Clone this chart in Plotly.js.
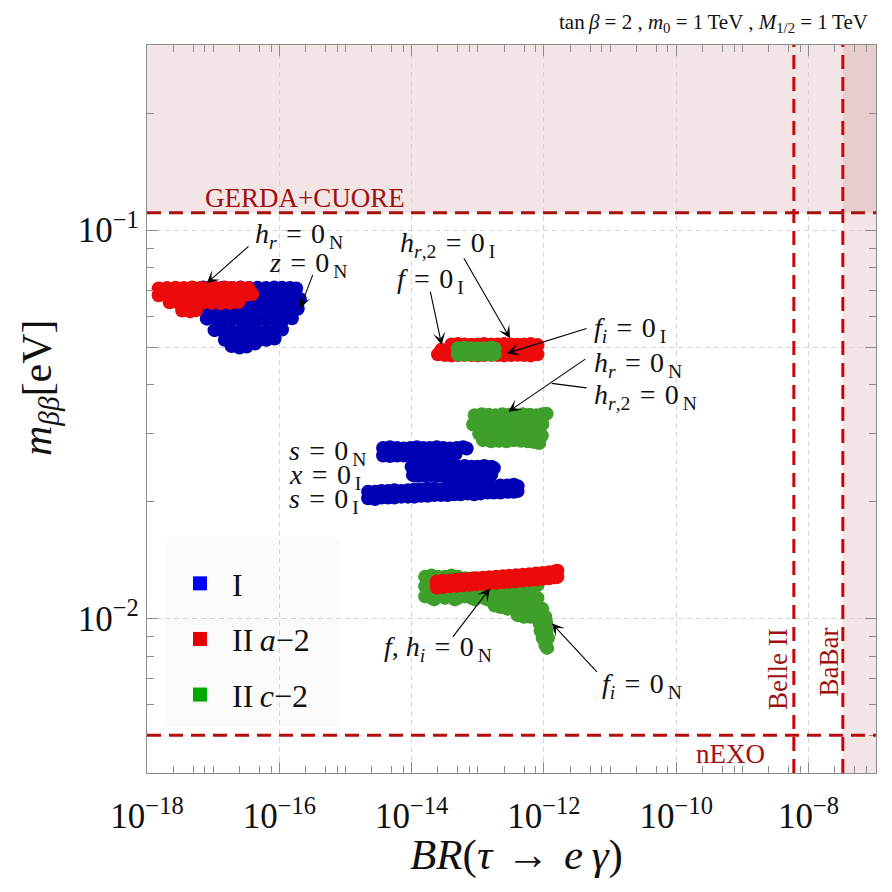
<!DOCTYPE html>
<html>
<head>
<meta charset="utf-8">
<script src="https://cdn.plot.ly/plotly-3.0.1.min.js"></script>
<style>
  html, body { margin: 0; padding: 0; background: #fff; }
  #chart { width: 892px; height: 892px; }
</style>
</head>
<body>
<div id="chart"></div>
<script>
// m_bb versus BR(tau -> e gamma) for the texture-zero scans (tan beta = 2, m0 = M1/2 = 1 TeV)

// ---------- experimental bounds ----------
const gerdaCuore = 0.111;   // eV, m_bb upper bound
const nexo = 0.005;         // eV, future sensitivity
const belle2 = 6e-9;        // BR reach
const babar = 3.3e-8;       // BR upper bound

// ---------- scan points: [BR(tau -> e gamma), m_bb (eV)] ----------
// Model I : h_r = 0_N, z = 0_N cluster
const typeI_hz = [
  [5e-18,.071],[7e-18,.0712],[1e-17,.071],[1.4e-17,.0711],[1.9e-17,.071],[2.6e-17,.0712],[3.5e-17,.071],[4.7e-17,.0711],[6.3e-17,.071],[8.4e-17,.0712],[1.1e-16,.0711],[1.45e-16,.071],[1.8e-16,.0708],
  [4e-18,.067],[6e-18,.067],[9e-18,.0672],[1.3e-17,.067],[1.8e-17,.0671],[2.4e-17,.067],[3.2e-17,.0669],[4.3e-17,.0671],[5.7e-17,.067],[7.6e-17,.0672],[1e-16,.067],[1.35e-16,.0669],[1.75e-16,.067],[2.05e-16,.0665],
  [5e-18,.063],[7e-18,.0632],[1e-17,.063],[1.4e-17,.0631],[1.9e-17,.063],[2.6e-17,.0629],[3.5e-17,.063],[4.7e-17,.0631],[6.3e-17,.063],[8.4e-17,.0629],[1.1e-16,.063],[1.45e-16,.0632],[1.9e-16,.0628],
  [8e-18,.0592],[1.1e-17,.059],[1.5e-17,.0589],[2e-17,.059],[2.7e-17,.0591],[3.6e-17,.059],[4.8e-17,.0589],[6.4e-17,.059],[8.5e-17,.0591],[1.15e-16,.059],[1.55e-16,.0593],
  [1.05e-17,.0553],[1.4e-17,.055],[1.9e-17,.0549],[2.6e-17,.055],[3.5e-17,.0551],[4.7e-17,.055],[6.3e-17,.0549],[8.4e-17,.0551],[1.1e-16,.0555],
  [1.5e-17,.0522],[2e-17,.052],[2.7e-17,.0519],[3.6e-17,.052],[4.8e-17,.0521],[6.4e-17,.0522],[8.5e-17,.0526],
  [1.9e-17,.0503],[2.5e-17,.0499],[3.2e-17,.0502],[4.3e-17,.0511]
];
// Model I : s = 0_N band
const typeI_sN = [
  [3.7e-15,.0275],[4.7e-15,.0276],[6e-15,.0275],[7.6e-15,.0274],[9.6e-15,.0275],[1.2e-14,.0276],[1.5e-14,.0275],[1.9e-14,.0275],[2.4e-14,.0276],[3e-14,.0275],[3.8e-14,.0274],[4.8e-14,.0275],[6e-14,.0276],[6.8e-14,.0274],
  [3.7e-15,.0263],[4.7e-15,.0262],[6e-15,.0263],[7.6e-15,.0263],[9.6e-15,.0262],[1.2e-14,.0263],[1.5e-14,.0264],[1.9e-14,.0263],[2.4e-14,.0262],[3e-14,.0263],[3.8e-14,.0264],[4.6e-14,.0265]
];
// Model I : x = 0_I band
const typeI_xI = [
  [1e-14,.0246],[1.25e-14,.0247],[1.6e-14,.0246],[2e-14,.0246],[2.5e-14,.0247],[3.2e-14,.0246],[4e-14,.0245],[5e-14,.0246],[6.3e-14,.0247],[8e-14,.0246],[1e-13,.0246],[1.25e-13,.0247],[1.6e-13,.0246],[1.75e-13,.0244],
  [1.05e-14,.0234],[1.25e-14,.0233],[1.6e-14,.0233],[2e-14,.0234],[2.5e-14,.0233],[3.2e-14,.0232],[4e-14,.0233],[5e-14,.0234],[6.3e-14,.0233],[8e-14,.0233],[1e-13,.0234],[1.25e-13,.0233],[1.6e-13,.0235]
];
// Model I : s = 0_I band
const typeI_sI = [
  [2.2e-15,.0212],[2.8e-15,.0212],[3.5e-15,.0213],[4.4e-15,.0213],[5.5e-15,.0214],[7e-15,.0213],[8.8e-15,.0214],[1.1e-14,.0215],[1.4e-14,.0215],[1.75e-14,.0216],[2.2e-14,.0216],[2.8e-14,.0215],[3.5e-14,.0217],[4.4e-14,.0217],[5.5e-14,.0218],[7e-14,.0217],[8.8e-14,.0218],[1.1e-13,.0219],[1.4e-13,.0219],[1.75e-13,.0218],[2.2e-13,.022],[2.8e-13,.022],[3.5e-13,.0221],[4e-13,.0219],
  [2.2e-15,.0204],[2.8e-15,.0203],[3.5e-15,.0205],[4.4e-15,.0205],[5.5e-15,.0205],[7e-15,.0206],[8.8e-15,.0206],[1.1e-14,.0206],[1.4e-14,.0207],[1.75e-14,.0207],[2.2e-14,.0208],[2.8e-14,.0208],[3.5e-14,.0208],[4.4e-14,.0209],[5.5e-14,.0209],[7e-14,.021],[8.8e-14,.0209],[1.1e-13,.021],[1.4e-13,.0211],[1.75e-13,.0211],[2.2e-13,.0211],[2.8e-13,.0212],[3.5e-13,.0212],[4e-13,.0213]
];

// Model II a-2 : h_r = 0_N cluster
const IIa_top = [
  [1.5e-18,.0708],[2e-18,.071],[2.7e-18,.0711],[3.6e-18,.071],[4.8e-18,.0712],[6.4e-18,.071],[8.5e-18,.0711],[1.1e-17,.071],[1.5e-17,.0712],[2e-17,.071],[2.6e-17,.0711],[3.4e-17,.071],
  [1.5e-18,.068],[2e-18,.0678],[2.7e-18,.068],[3.6e-18,.0681],[4.8e-18,.068],[6.4e-18,.0679],[8.5e-18,.068],[1.1e-17,.0681],[1.5e-17,.068],[2e-17,.0679],[2.6e-17,.068],[3.3e-17,.0682],[3.9e-17,.0685],
  [2.2e-18,.0652],[3e-18,.065],[4e-18,.0648],[5.3e-18,.065],[7e-18,.0651],[9.5e-18,.065],[1.3e-17,.0649],[1.8e-17,.065],[2.4e-17,.0653],
  [3.4e-18,.0621],[4.5e-18,.0618],[5.5e-18,.0622]
];
// Model II a-2 : h_{r,2} = 0_I, f = 0_I band
const IIa_mid = [
  [4e-14,.0508],[5e-14,.0509],[6.3e-14,.0508],[8e-14,.0507],[1e-13,.0508],[1.25e-13,.0509],[1.6e-13,.0508],[2e-13,.0508],[2.5e-13,.0509],[3.2e-13,.0508],[4e-13,.0507],[5e-13,.0508],[6.3e-13,.0509],[8e-13,.0506],
  [2.8e-14,.0492],
  [2.5e-14,.0479],[3.2e-14,.0477],[4e-14,.0476],[5e-14,.0477],[6.3e-14,.0478],[8e-14,.0477],[1e-13,.0476],[1.25e-13,.0477],[1.6e-13,.0478],[2e-13,.0477],[2.5e-13,.0476],[3.2e-13,.0477],[4e-13,.0478],[5e-13,.0477],[6.3e-13,.0476],[8e-13,.0479]
];
// Model II a-2 : f, h_i = 0_N band
const IIa_low = [
  [2.4e-14,.01246],[3e-14,.0125],[3.8e-14,.01253],[4.8e-14,.01258],[6e-14,.01262],[7.6e-14,.01265],[9.6e-14,.0127],[1.2e-13,.01273],[1.5e-13,.01277],[1.9e-13,.0128],[2.4e-13,.01284],[3e-13,.01289],[3.8e-13,.01292],[4.8e-13,.01296],[6e-13,.013],[7.6e-13,.01306],[9.6e-13,.0131],[1.2e-12,.01316],[1.5e-12,.01323],[1.6e-12,.01327],
  [2.4e-14,.01202],[3e-14,.01205],[3.8e-14,.0121],[4.8e-14,.01214],[6e-14,.01217],[7.6e-14,.01222],[9.6e-14,.01226],[1.2e-13,.01229],[1.5e-13,.01233],[1.9e-13,.01236],[2.4e-13,.0124],[3e-13,.01244],[3.8e-13,.01247],[4.8e-13,.01252],[6e-13,.01256],[7.6e-13,.0126],[9.6e-13,.01265],[1.2e-12,.0127],[1.5e-12,.01277],[1.6e-12,.0128]
];

// Model II c-2 : f_i = 0_I band
const IIc_mid = [
  [5e-14,.0497],[6.3e-14,.0498],[8e-14,.0497],[1e-13,.0496],[1.25e-13,.0497],[1.6e-13,.0498],[1.8e-13,.0496],
  [5e-14,.0479],[6.3e-14,.0478],[8e-14,.0479],[1e-13,.0478],[1.25e-13,.0479],[1.6e-13,.0478],[1.8e-13,.048]
];
// Model II c-2 : h_r = 0_N, h_{r,2} = 0_N cluster
const IIc_up = [
  [9e-14,.0334],[1.15e-13,.0336],[1.45e-13,.0335],[1.85e-13,.0334],[2.35e-13,.0336],[3e-13,.0335],[3.8e-13,.0334],[4.8e-13,.0336],[6.1e-13,.0335],[7.7e-13,.0334],[9.5e-13,.0336],[1.1e-12,.0337],
  [8.5e-14,.0316],[1.1e-13,.0315],[1.4e-13,.0314],[1.8e-13,.0315],[2.3e-13,.0316],[2.9e-13,.0315],[3.7e-13,.0314],[4.7e-13,.0315],[6e-13,.0316],[7.6e-13,.0315],[9.5e-13,.0317],
  [1.05e-13,.0299],[1.35e-13,.0298],[1.7e-13,.0297],[2.2e-13,.0298],[2.8e-13,.0299],[3.6e-13,.0298],[4.6e-13,.0297],[5.8e-13,.0298],[7.4e-13,.0299],[9.3e-13,.0296],
  [1.2e-13,.0288],[1.6e-13,.0286],[2.1e-13,.0287],[2.7e-13,.0286],[3.5e-13,.0288],[4.5e-13,.0287],[5.7e-13,.0286],[7e-13,.0285],[8.5e-13,.0283]
];
// Model II c-2 : f, h_i = 0_N band and f_i = 0_N tail
const IIc_low = [
  [1.6e-14,.0128],[2e-14,.0129],[2.5e-14,.0128],[3.2e-14,.0128],[4e-14,.0129],[5e-14,.0128],[6.5e-14,.0127],[8.5e-14,.0127],
  [1.6e-14,.0121],[2e-14,.0121],[2.5e-14,.0122],[3.2e-14,.0121],[4e-14,.0121],[5e-14,.0122],[6.3e-14,.0121],[8e-14,.0121],[1e-13,.0122],[1.25e-13,.0121],[1.6e-13,.0121],[2e-13,.0122],[2.5e-13,.0121],[3.2e-13,.0121],[4e-13,.0122],[5e-13,.0121],[6.3e-13,.0121],[8e-13,.0122],
  [1.6e-14,.0114],[2e-14,.0113],[2.5e-14,.0114],[3.2e-14,.0113],[4e-14,.0114],[5e-14,.0113],[6.3e-14,.0114],[8e-14,.0113],[1e-13,.0114],[1.25e-13,.0113],[1.6e-13,.0114],[2e-13,.0113],[2.5e-13,.0114],[3.2e-13,.0113],[4e-13,.0114],[5e-13,.0113],[6.3e-13,.0114],[8e-13,.0113],
  [2.2e-14,.0112],[4.5e-14,.0112],[9e-14,.0112],[1.4e-13,.0112],
  [1.8e-13,.0108],[2.2e-13,.0107],[2.8e-13,.0106],[3.5e-13,.0107],[4.4e-13,.0106],[5.5e-13,.0107],[6.8e-13,.0106],[8.2e-13,.0107],[9.4e-13,.0106],
  [4e-13,.0102],[5e-13,.0101],[6.3e-13,.0101],[7.8e-13,.0102],[9.3e-13,.0101],[1.05e-12,.0101],
  [8.6e-13,.0097],[1.08e-12,.0098],[8.9e-13,.0093],[1.1e-12,.0093],[9.6e-13,.0089],[1.15e-12,.0089],[1.05e-12,.00855],[1.12e-12,.0084]
];

// ---------- legend / tick text ----------
const seriesNames = ['I', 'II\u2009<i>a</i>\u22122', 'II\u2009<i>c</i>\u22122'];
const legendColors = ['#0000ff', '#e60000', '#00a800'];
const markColors = ['#0000b4', '#ec0a0a', '#3ea02a'];
const xTickVals = [1e-18, 1e-16, 1e-14, 1e-12, 1e-10, 1e-8];
const xTickText = ['10<sup>\u221218</sup>', '10<sup>\u221216</sup>', '10<sup>\u221214</sup>', '10<sup>\u221212</sup>', '10<sup>\u221210</sup>', '10<sup>\u22128</sup>'];
const yTickVals = [0.1, 0.05, 0.01];
const yTickText = ['10<sup>\u22121</sup>', '', '10<sup>\u22122</sup>'];

const SERIF = '"Liberation Serif", "DejaVu Serif", serif';
const xRange = [-18, -6.98];
const yRange = [Math.log10(0.004), Math.log10(0.3)];

// minor ticks: 2.5, 5, 7.5 per decade plus the unlabelled decades
const xMinor = [];
for (let e = -18; e <= -8; e++) {
  [2.5, 5, 7.5].forEach(m => xMinor.push(m * Math.pow(10, e)));
  if (e % 2 !== 0) xMinor.push(Math.pow(10, e));
}
const yMinor = [0.005, 0.006, 0.007, 0.008, 0.009, 0.02, 0.03, 0.04, 0.06, 0.07, 0.08, 0.09, 0.2, 0.3];

const cols = arr => ({ x: arr.map(p => p[0]), y: arr.map(p => p[1]) });
const scatter = (arr, color) => Object.assign(cols(arr), {
  type: 'scatter', mode: 'markers', showlegend: false, hoverinfo: 'skip',
  marker: { color: color, size: 14, line: { width: 0 } }
});

const traces = [
  scatter([].concat(typeI_hz, typeI_sN, typeI_xI, typeI_sI), markColors[0]),
  scatter([].concat(IIc_up, IIc_low), markColors[2]),
  scatter([].concat(IIa_top, IIa_mid, IIa_low), markColors[1]),
  scatter(IIc_mid, markColors[2])
];
// legend swatches
seriesNames.forEach((name, i) => traces.push({
  type: 'scatter', mode: 'markers', x: [null], y: [null], name: name,
  legendgroup: 'g' + i, showlegend: true,
  marker: { symbol: 'square', size: 14, color: legendColors[i] }
}));

// ---------- annotations ----------
const SP = '\u2004';  // spacing around relation signs
const eq = SP + '=' + SP;
const labelFont = { family: SERIF, size: 28, color: '#111' };
const label = (text, x, y) => ({ text, x, y, xref: 'x', yref: 'y', showarrow: false,
  xanchor: 'left', yanchor: 'middle', font: labelFont });
const arrow = (tx, ty, hx, hy, head) => ({ text: '', x: hx, y: hy, ax: tx, ay: ty,
  xref: 'x', yref: 'y', axref: 'x', ayref: 'y', showarrow: true,
  arrowhead: head === undefined ? 3 : head, arrowsize: 1.9, arrowwidth: 1.1, arrowcolor: '#000',
  standoff: 0, startstandoff: 0 });
const limFont = { family: SERIF, size: 27, color: '#9e1010' };
const limLabel = (text, x, y, angle) => ({ text, x, y, xref: 'x', yref: 'y', showarrow: false,
  xanchor: 'center', yanchor: 'middle', textangle: angle || 0, font: limFont });
const axisTitleFont = { family: SERIF, size: 43, color: '#111' };

const annotations = [
  label('<i>h</i><sub><i>r</i></sub>' + eq + '0<sub>\u2009N</sub>', -16.398, -1.0124),
  label('<i>z</i>' + eq + '0<sub>\u2009N</sub>', -16.186, -1.0871),
  arrow(-16.443, -1.0381, -17.0975, -1.1368),
  arrow(-15.486, -1.111, -15.687, -1.2012),

  label('<i>h</i><sub><i>r</i>,2</sub>' + eq + '0<sub>\u2009I</sub>', -14.206, -1.0355),
  label('<i>f</i>' + eq + '0<sub>\u2009I</sub>', -14.251, -1.1283),
  arrow(-13.223, -1.0683, -12.512, -1.2784),
  arrow(-13.722, -1.154, -13.545, -1.2957),

  label('<i>f</i><sub><i>i</i></sub>' + eq + '0<sub>\u2009I</sub>', -11.277, -1.2545),
  arrow(-11.333, -1.2519, -12.562, -1.3171),
  label('<i>h</i><sub><i>r</i></sub>' + eq + '0<sub>\u2009N</sub>', -11.277, -1.3446),
  arrow(-11.353, -1.3292, -12.538, -1.4675),
  label('<i>h</i><sub><i>r</i>,2</sub>' + eq + '0<sub>\u2009N</sub>', -11.277, -1.427),
  arrow(-11.333, -1.4064, -11.882, -1.3943, 0),

  label('<i>s</i>' + eq + '0<sub>\u2009N</sub>', -15.884, -1.5713),
  label('<i>x</i>' + eq + '0<sub>\u2009I</sub>', -15.884, -1.6331),
  label('<i>s</i>' + eq + '0<sub>\u2009I</sub>', -15.884, -1.6949),

  label('<i>f</i>, <i>h</i><sub><i>i</i></sub>' + eq + '0<sub>\u2009N</sub>', -14.452, -2.0761),
  arrow(-13.394, -2.0511, -12.815, -1.9223),
  label('<i>f</i><sub><i>i</i></sub>' + eq + '0<sub>\u2009N</sub>', -11.152, -2.1714),
  arrow(-11.178, -2.1413, -11.882, -2.0125),

  limLabel('GERDA+CUORE', -15.611, -0.9171),
  limLabel('nEXO', -9.187, -2.3491),
  limLabel('Belle II', -8.461, -2.130, -90),
  limLabel('BaBar', -7.697, -2.112, -90),

  // axis titles
  { text: '<i>BR</i>(<i>\u03c4</i>\u2004\u2192\u2004<i>e</i>\u2009<i>\u03b3</i>)', xref: 'paper', yref: 'paper',
    x: 0.5075, y: -0.113, xanchor: 'center', yanchor: 'middle', showarrow: false, font: axisTitleFont },
  { text: '<i>m</i><sub><i>\u03b2\u03b2</i></sub>[eV]', xref: 'paper', yref: 'paper',
    x: -0.147, y: 0.53, xanchor: 'center', yanchor: 'middle', textangle: -90, showarrow: false,
    font: { family: SERIF, size: 42, color: '#111' } }
];

// ---------- shapes ----------
const shade = 'rgba(150,20,30,0.11)';
const dashed = c => ({ color: c, width: 3, dash: '14px,8px' });
const xTop = Math.pow(10, xRange[1]);
const yTop = Math.pow(10, yRange[1]);
const shapes = [
  { type: 'rect', layer: 'below', xref: 'paper', yref: 'y', x0: 0, x1: 1, y0: gerdaCuore, y1: yTop,
    fillcolor: shade, line: { width: 0 } },
  { type: 'rect', layer: 'below', xref: 'x', yref: 'paper', x0: babar, x1: xTop, y0: 0, y1: 1,
    fillcolor: shade, line: { width: 0 } },
  { type: 'rect', layer: 'between', xref: 'paper', yref: 'paper',
    x0: 0.026, x1: 0.2647, y0: 0.0632, y1: 0.323, fillcolor: '#fafafa', line: { width: 0 } },
  { type: 'line', layer: 'above', xref: 'paper', yref: 'y', x0: 0, x1: 1, y0: gerdaCuore, y1: gerdaCuore, line: dashed('#a51212') },
  { type: 'line', layer: 'above', xref: 'paper', yref: 'y', x0: 0, x1: 1, y0: nexo, y1: nexo, line: dashed('#b80c0c') },
  { type: 'line', layer: 'above', xref: 'x', yref: 'paper', x0: belle2, x1: belle2, y0: 0, y1: 1, line: dashed('#c8060c') },
  { type: 'line', layer: 'above', xref: 'x', yref: 'paper', x0: babar, x1: babar, y0: 0, y1: 1, line: dashed('#c8060c') }
];

const axisCommon = {
  type: 'log', showline: true, linecolor: '#8c8c8c', linewidth: 1.2, mirror: 'allticks',
  ticks: 'inside', ticklen: 11, tickwidth: 1, tickcolor: '#8c8c8c',
  showgrid: true, gridcolor: '#d4d4d4', gridwidth: 1, griddash: '5px,4px', zeroline: false,
  tickmode: 'array', tickfont: { family: SERIF, size: 35, color: '#111' }
};

const layout = {
  width: 892, height: 892,
  margin: { l: 147, r: 16, t: 45, b: 119 },
  paper_bgcolor: '#fff', plot_bgcolor: '#fff',
  font: { family: SERIF, color: '#111' },
  title: {
    text: 'tan\u2009<i>\u03b2</i> = 2 , <i>m</i><sub>0</sub> = 1\u2009TeV , <i>M</i><sub>1/2</sub> = 1\u2009TeV',
    font: { family: SERIF, size: 21, color: '#111' },
    xref: 'container', yref: 'container', x: 0.973, xanchor: 'right', y: 0.976, yanchor: 'middle'
  },
  xaxis: Object.assign({}, axisCommon, {
    range: xRange, tickvals: xTickVals, ticktext: xTickText, ticklabelstandoff: 12,
    minor: { tickmode: 'array', tickvals: xMinor, ticks: 'inside', ticklen: 7, tickcolor: '#8c8c8c', showgrid: false }
  }),
  yaxis: Object.assign({}, axisCommon, {
    range: yRange, tickvals: yTickVals, ticktext: yTickText,
    minor: { tickmode: 'array', tickvals: yMinor, ticks: 'inside', ticklen: 7, tickcolor: '#8c8c8c', showgrid: false }
  }),
  showlegend: true,
  legend: {
    x: 0.0288, y: 0.298, xanchor: 'left', yanchor: 'top',
    bgcolor: 'rgba(0,0,0,0)', borderwidth: 0,
    font: { family: SERIF, size: 32, color: '#111' },
    itemwidth: 54, tracegroupgap: 11, traceorder: 'grouped'
  },
  shapes: shapes,
  annotations: annotations
};

Plotly.newPlot('chart', traces, layout, { displayModeBar: false, staticPlot: true });
</script>
</body>
</html>
